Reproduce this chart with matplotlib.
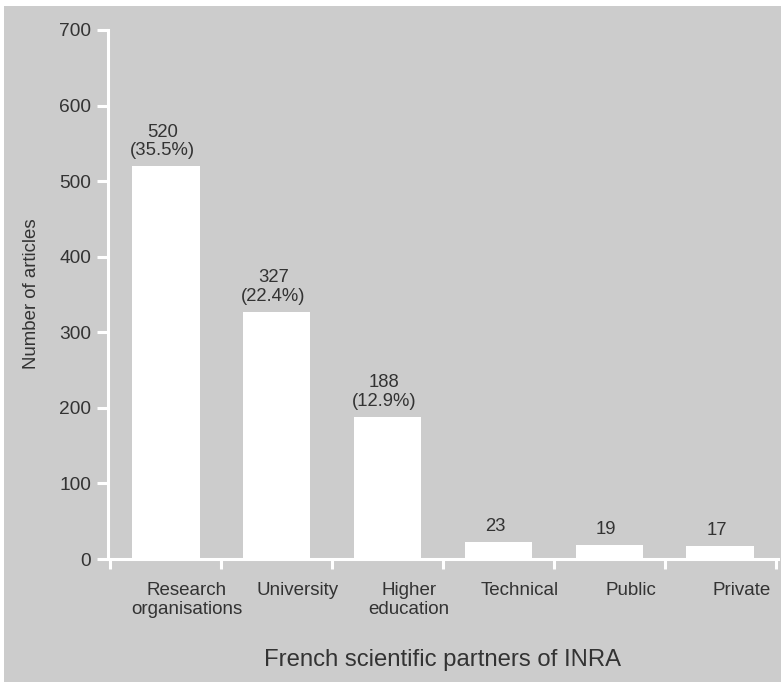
import matplotlib
matplotlib.use("Agg")
import matplotlib.pyplot as plt
from matplotlib.patches import Rectangle

categories = ["Research\norganisations", "University", "Higher\neducation",
              "Technical", "Public", "Private"]
counts = [520, 327, 188, 23, 19, 17]
shares = ["35.5%", "22.4%", "12.9%", None, None, None]

BG = "#cccccc"
TXT = "#333333"
W, H = 781, 682

plt.rcParams["font.family"] = ["Liberation Sans", "DejaVu Sans"]

fig = plt.figure(figsize=(W / 100, H / 100), dpi=100)
fig.patch.set_facecolor("white")
fig.patches.append(Rectangle((4 / W, 0), 1, 1 - 6 / H, transform=fig.transFigure,
                             facecolor=BG, edgecolor="none", zorder=-10))

ax = fig.add_axes([108 / W, 1 - 559 / H, 670 / W, 529 / H])
ax.set_facecolor("none")

x = list(range(len(counts)))
ax.bar(x, counts, width=0.61, color="white", edgecolor="none")

for xi, c, s in zip(x, counts, shares):
    lab = f"{c}\n({s})" if s else f"{c}"
    ax.annotate(lab, (xi - 0.03, c), xytext=(0, 5), textcoords="offset points",
                ha="center", va="bottom", fontsize=13.3, color=TXT,
                linespacing=1.12)

ax.set_xlim(-0.52, 5.52)
ax.set_ylim(0, 700)
ax.set_yticks(range(0, 701, 100))
ax.set_xticks([i - 0.5 for i in range(7)])
ax.set_xticklabels([])

for sp in ["top", "right"]:
    ax.spines[sp].set_visible(False)
for sp in ["left", "bottom"]:
    ax.spines[sp].set_color("white")
    ax.spines[sp].set_linewidth(2.2)
ax.spines["left"].set_bounds(0, 700)

ax.tick_params(axis="y", colors="white", labelcolor=TXT, length=8, width=2.2,
               labelsize=13.8, pad=4)
ax.tick_params(axis="x", colors="white", length=7, width=2.2, direction="out")

for xi, lab in zip(x, categories):
    ax.text(xi + 0.19, -30, lab, ha="center", va="top", fontsize=13.5,
            color=TXT, linespacing=1.15, clip_on=False)

fig.text(443 / W, 1 - 660 / H, "French scientific partners of INRA",
         ha="center", va="center", fontsize=17.2, color=TXT)
fig.text(32 / W, 1 - 294 / H, "Number of articles", rotation=90,
         ha="center", va="center", fontsize=13.4, color=TXT)

fig.savefig("out.png", dpi=100, facecolor=fig.get_facecolor())
